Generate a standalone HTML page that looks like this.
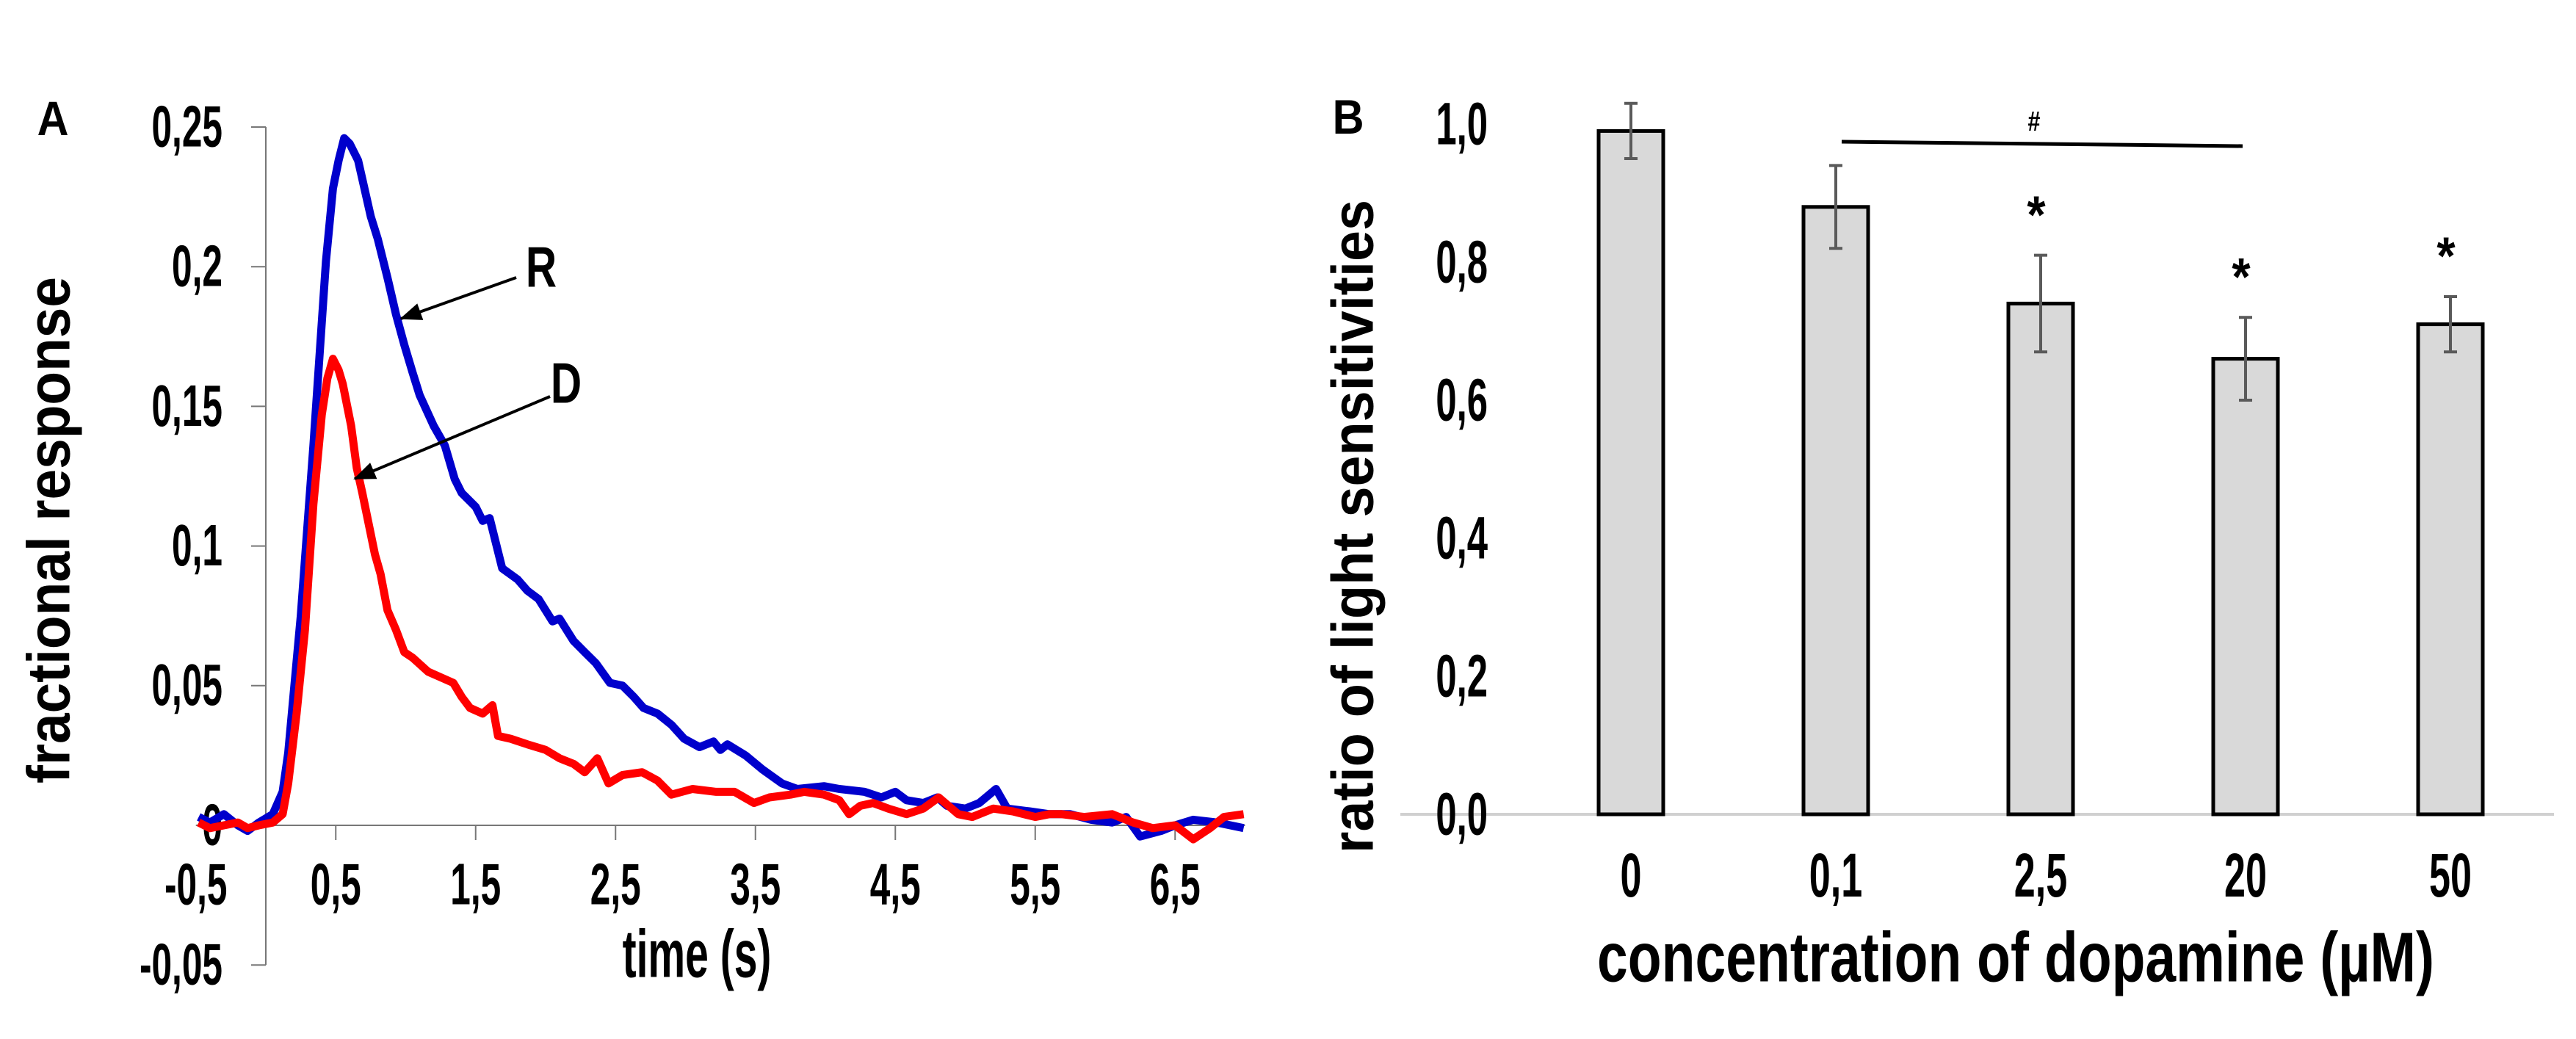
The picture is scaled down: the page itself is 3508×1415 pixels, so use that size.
<!DOCTYPE html>
<html><head><meta charset="utf-8">
<style>
html,body{margin:0;padding:0;background:#fff;}
svg{display:block;}
text{font-family:"Liberation Sans",Arial,sans-serif;font-weight:bold;fill:#000;}
</style></head>
<body>
<svg id="fig" width="3508" height="1415" viewBox="0 0 3508 1415" xmlns="http://www.w3.org/2000/svg">
<rect width="3508" height="1415" fill="#fff"/>
<defs><marker id="ah" markerWidth="30" markerHeight="24" refX="28" refY="12" orient="auto" markerUnits="userSpaceOnUse" viewBox="0 0 30 24"><path d="M0,0L30,12L0,24z" fill="#000"/></marker></defs>
<g id="panelA"></g>
<g id="panelB"></g>
</svg>
<script>
// ---------- Panel A data ----------
const timeR = [-0.48,-0.4,-0.3,-0.2,-0.13,-0.05,0.05,0.12,0.16,0.25,0.34,0.43,0.48,0.52,0.56,0.6,0.66,0.75,0.8,0.87,0.93,0.99,1.05,1.1,1.2,1.28,1.35,1.4,1.5,1.55,1.6,1.65,1.69,1.8,1.87,1.95,2.05,2.1,2.2,2.28,2.36,2.46,2.55,2.63,2.7,2.8,2.9,2.99,3.1,3.2,3.25,3.3,3.43,3.55,3.69,3.8,3.99,4.1,4.28,4.4,4.5,4.58,4.7,4.8,4.87,5.0,5.1,5.22,5.3,5.46,5.6,5.75,5.9,6.05,6.15,6.25,6.4,6.5,6.63,6.8,6.99];
const valR  = [0.003,0.001,0.004,0.0,-0.002,0.001,0.004,0.012,0.026,0.075,0.136,0.202,0.228,0.238,0.246,0.244,0.238,0.218,0.21,0.196,0.183,0.172,0.162,0.154,0.143,0.136,0.124,0.119,0.114,0.109,0.11,0.1,0.092,0.088,0.084,0.081,0.073,0.074,0.066,0.062,0.058,0.051,0.05,0.046,0.042,0.04,0.036,0.031,0.028,0.03,0.027,0.029,0.025,0.02,0.015,0.013,0.014,0.013,0.012,0.01,0.012,0.009,0.008,0.01,0.007,0.006,0.008,0.013,0.006,0.005,0.004,0.004,0.002,0.001,0.003,-0.004,-0.002,0.0,0.002,0.001,-0.001];
const timeD = [-0.48,-0.4,-0.3,-0.2,-0.13,-0.05,0.05,0.12,0.16,0.22,0.28,0.34,0.4,0.44,0.48,0.52,0.55,0.61,0.65,0.69,0.78,0.82,0.87,0.93,0.99,1.05,1.16,1.25,1.34,1.4,1.46,1.55,1.62,1.66,1.75,1.87,2.0,2.1,2.2,2.28,2.37,2.45,2.55,2.69,2.8,2.9,3.05,3.22,3.35,3.49,3.6,3.75,3.85,3.99,4.1,4.17,4.25,4.34,4.45,4.58,4.7,4.81,4.95,5.05,5.2,5.34,5.5,5.6,5.69,5.85,6.05,6.2,6.34,6.5,6.63,6.75,6.85,6.99];
const valD  = [0.001,-0.001,0.0,0.001,-0.001,0.0,0.001,0.004,0.015,0.04,0.07,0.115,0.147,0.16,0.167,0.163,0.158,0.143,0.128,0.119,0.097,0.09,0.077,0.07,0.062,0.06,0.055,0.053,0.051,0.046,0.042,0.04,0.043,0.032,0.031,0.029,0.027,0.024,0.022,0.019,0.024,0.015,0.018,0.019,0.016,0.011,0.013,0.012,0.012,0.008,0.01,0.011,0.012,0.011,0.009,0.004,0.007,0.008,0.006,0.004,0.006,0.01,0.004,0.003,0.006,0.005,0.003,0.004,0.004,0.003,0.004,0.001,-0.001,0.0,-0.005,-0.001,0.003,0.004];
const yTicksA = [0.25,0.2,0.15,0.1,0.05,0,-0.05];
const yTickLabelsA = ["0,25","0,2","0,15","0,1","0,05","0","-0,05"];
const xTicksA = [-0.5,0.5,1.5,2.5,3.5,4.5,5.5,6.5];
const xTickLabelsA = ["-0,5","0,5","1,5","2,5","3,5","4,5","5,5","6,5"];

// ---------- Panel B data ----------
const categoriesB = ["0","0,1","2,5","20","50"];
const ratioB = [0.99,0.88,0.74,0.66,0.71];
const errB = [0.04,0.06,0.07,0.06,0.04];
const starB = [false,false,true,true,true];
const yTicksB = [0,0.2,0.4,0.6,0.8,1.0];
const yTickLabelsB = ["0,0","0,2","0,4","0,6","0,8","1,0"];

const NS="http://www.w3.org/2000/svg";
function mk(tag, attrs, parent){const e=document.createElementNS(NS,tag);for(const k in attrs)e.setAttribute(k,attrs[k]);parent.appendChild(e);return e;}
function txt(parent,x,y,s,size,anchor,sx){const g=mk('g',{transform:`translate(${x},${y}) scale(${sx||1},1)`},parent);const t=mk('text',{x:0,y:0,'font-size':size,'text-anchor':anchor||'middle','dominant-baseline':'central'},g);t.textContent=s;return g;}

// ---------- Panel A ----------
const A=document.getElementById('panelA');
const xA=t=>362+t*190.5;
const yA=v=>1124-v*3804;
let e;
e=mk('line',{x1:362,y1:yA(0.25),x2:362,y2:yA(-0.05),stroke:'#777','stroke-width':2},A);

e=mk('line',{x1:xA(-0.5),y1:yA(0),x2:xA(7),y2:yA(0),stroke:'#777','stroke-width':2},A);

yTicksA.forEach((v,i)=>{
  const t=mk('line',{x1:342,y1:yA(v),x2:362,y2:yA(v),stroke:'#777','stroke-width':2},A);
  
  const l=txt(A,303,yA(v),yTickLabelsA[i],80,'end',0.62);
  
});
xTicksA.forEach((v,i)=>{
  if(i>0){const t=mk('line',{x1:xA(v),y1:yA(0),x2:xA(v),y2:yA(0)+20,stroke:'#777','stroke-width':2},A);
  }
  const l=txt(A,xA(v),1205,xTickLabelsA[i],80,'middle',0.62);
  
});
function series(ts,vs,color,name){
  const d=ts.map((t,i)=>(i?'L':'M')+xA(t).toFixed(1)+','+yA(vs[i]).toFixed(1)).join('');
  const p=mk('path',{d:d,fill:'none',stroke:color,'stroke-width':11,'stroke-linejoin':'round'},A);
  
}
series(timeR,valR,'#0000cc','series-r-blue');
series(timeD,valD,'#ff0000','series-d-red');
e=mk('line',{x1:703,y1:378,x2:546,y2:434,stroke:'#000','stroke-width':4,'marker-end':'url(#ah)'},A);

e=mk('line',{x1:749,y1:540,x2:483,y2:652,stroke:'#000','stroke-width':4,'marker-end':'url(#ah)'},A);

e=txt(A,737,364,'R',78,'middle',0.75);
e=txt(A,771,522,'D',78,'middle',0.75);
e=txt(A,72,162,'A',66,'middle',0.9);
e=txt(A,949,1300,'time (s)',92,'middle',0.62);
e=mk('g',{transform:'translate(67,722) rotate(-90)'},A);

mk('text',{x:0,y:0,'font-size':82,'text-anchor':'middle','dominant-baseline':'central',textLength:690,lengthAdjust:'spacingAndGlyphs'},e).textContent='fractional response';

// ---------- Panel B ----------
const B=document.getElementById('panelB');
const xB=i=>2221+i*279;
const yB=v=>1109-v*940;
const bw=88;
e=mk('line',{x1:1907,y1:yB(0),x2:3478,y2:yB(0),stroke:'#d0d0d0','stroke-width':4},B);

yTicksB.forEach((v,i)=>{
  const l=txt(B,2026,yB(v),yTickLabelsB[i],82,'end',0.62);
  
});
categoriesB.forEach((c,i)=>{
  const r=mk('rect',{x:xB(i)-bw/2,y:yB(ratioB[i]),width:bw,height:yB(0)-yB(ratioB[i]),fill:'#d9d9d9',stroke:'#000','stroke-width':5},B);
  
  const eg=mk('path',{d:`M${xB(i)},${yB(ratioB[i]+errB[i])}V${yB(ratioB[i]-errB[i])}M${xB(i)-9},${yB(ratioB[i]+errB[i])}h18M${xB(i)-9},${yB(ratioB[i]-errB[i])}h18`,stroke:'#5a5a5a','stroke-width':4,fill:'none'},B);
  
  const l=txt(B,xB(i),1192,c,84,'middle',0.62);
  
  if(starB[i]){const s=txt(B,xB(i)-6,yB(ratioB[i]+errB[i])-55,'*',72,'middle',0.9);
    }
});
e=mk('line',{x1:2508,y1:193,x2:3054,y2:199,stroke:'#000','stroke-width':5},B);

e=txt(B,2770,166,'#',38,'middle',0.8);
e=txt(B,1836,160,'B',66,'middle',0.9);
e=mk('g',{transform:'translate(2745,1304)'},B);

mk('text',{x:0,y:0,'font-size':96,'text-anchor':'middle','dominant-baseline':'central',textLength:1140,lengthAdjust:'spacingAndGlyphs'},e).textContent='concentration of dopamine (µM)';
e=mk('g',{transform:'translate(1842,717) rotate(-90)'},B);

mk('text',{x:0,y:0,'font-size':80,'text-anchor':'middle','dominant-baseline':'central',textLength:890,lengthAdjust:'spacingAndGlyphs'},e).textContent='ratio of light sensitivities';
</script>
</body></html>
